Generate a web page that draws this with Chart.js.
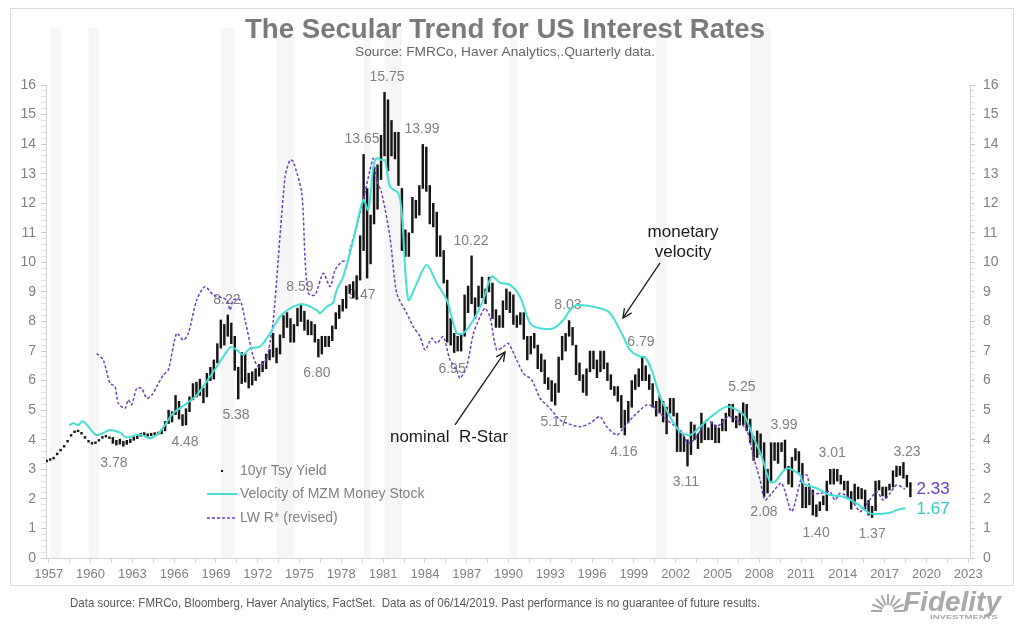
<!DOCTYPE html>
<html><head><meta charset="utf-8">
<script src="https://cdn.jsdelivr.net/npm/chart.js@4.4.1/dist/chart.umd.min.js"></script>
<style>html,body{margin:0;padding:0;background:#fff;}#wrap{width:1024px;height:625px;}</style>
</head><body><div id="wrap"><canvas id="c" width="1024" height="625"></canvas></div>
<script>
// ---------- DATA ----------
// 10yr Treasury yield, quarterly low / high, starting 1957Q1
const firstYear = 1957;
const yieldLow = [
3.22,3.25,3.30,3.35,3.49,3.62,3.75,3.92,4.12,4.24,4.27,4.19,4.05,3.92,3.85,3.87,3.95,4.05,4.09,4.04,
3.88,3.82,3.85,3.78,3.84,3.90,3.98,4.04,4.12,4.14,
4.12,4.14,4.16,4.18,4.20,4.30,4.55,4.60,4.85,4.70,
4.48,4.50,4.95,5.35,5.45,5.50,5.25,5.45,6.00,6.05,
6.60,7.10,7.20,7.50,7.25,6.35,5.38,5.90,5.95,5.75,
5.85,6.00,6.15,6.30,6.40,6.70,6.80,6.60,6.90,7.45,
7.80,7.30,7.30,7.85,8.00,7.70,7.55,7.55,7.30,6.80,
6.90,7.15,7.15,7.35,7.75,8.10,8.35,8.45,8.95,8.80,
8.75,9.40,10.40,9.47,9.95,11.30,11.80,12.80,13.60,13.10,
13.60,13.50,12.60,10.40,10.20,10.20,11.00,11.50,11.60,12.50,
12.40,11.30,11.20,10.20,10.20,9.30,7.30,7.20,6.95,7.00,
7.00,7.50,8.30,8.60,8.10,8.50,8.80,8.60,9.00,8.10,
7.80,7.80,7.80,8.40,8.30,7.90,7.80,7.90,7.40,6.70,
6.90,7.10,6.40,6.30,5.90,5.70,5.30,5.17,5.60,6.70,
7.00,7.50,7.20,6.20,6.00,5.60,5.50,6.30,6.40,6.10,
6.30,6.40,6.00,5.70,5.50,5.30,4.40,4.16,4.60,5.10,
5.70,5.80,6.00,6.00,5.70,5.10,4.80,4.90,4.60,4.20,
4.90,4.80,3.60,3.60,3.60,3.11,3.50,4.00,3.70,3.90,
4.00,4.00,4.00,3.90,3.90,4.30,4.30,4.80,4.60,4.40,
4.50,4.50,4.30,3.90,3.30,3.40,3.50,2.08,2.20,2.60,
3.30,3.20,3.60,3.00,2.50,2.40,3.30,2.90,1.70,1.70,
1.80,1.45,1.40,1.60,1.80,1.60,2.50,2.50,2.60,2.50,
2.30,2.00,1.65,1.85,2.00,2.00,1.65,1.45,1.37,1.60,
2.30,2.10,2.03,2.30,2.40,2.75,2.80,2.70,2.40,2.07];
const yieldHigh = [
3.28,3.31,3.36,3.41,3.55,3.68,3.81,3.98,4.18,4.30,4.33,4.25,4.11,3.98,3.91,3.93,4.01,4.11,4.15,4.10,
4.08,3.98,4.02,3.95,3.98,4.02,4.10,4.16,4.22,4.24,
4.20,4.22,4.24,4.26,4.34,4.62,5.00,4.95,5.50,5.30,
4.85,5.05,5.45,5.90,5.95,6.05,5.75,6.25,6.45,6.70,
7.25,8.05,7.90,8.22,7.95,7.50,6.45,6.95,6.90,6.25,
6.30,6.40,6.55,6.65,6.90,7.05,7.60,7.10,7.55,8.20,
8.30,8.10,7.90,8.45,8.59,8.35,8.05,8.00,7.90,7.40,
7.50,7.50,7.50,7.85,8.30,8.55,8.75,9.20,9.25,9.35,
9.55,10.90,13.65,12.50,11.60,13.20,13.30,14.30,15.75,15.50,
14.80,14.40,14.40,12.50,11.10,11.00,12.20,12.10,12.60,13.99,
13.90,12.60,12.00,11.70,10.90,10.40,9.40,8.10,7.60,7.50,
7.60,8.90,9.20,10.22,8.80,9.20,9.50,9.10,9.50,9.30,
8.40,8.20,8.70,9.10,9.00,8.90,8.20,8.30,8.30,7.50,
7.50,7.60,7.20,6.90,6.70,6.10,6.00,5.90,6.80,7.50,
7.60,8.03,7.80,7.20,6.60,6.20,6.40,7.00,7.00,6.70,
7.00,7.00,6.60,6.20,5.80,5.80,5.50,5.00,5.30,6.00,
6.20,6.40,6.79,6.50,6.20,5.90,5.30,5.50,5.30,5.10,
5.40,5.40,4.90,4.30,4.10,4.00,4.60,4.50,4.20,4.90,
4.60,4.40,4.60,4.50,4.40,4.70,4.90,5.20,5.20,4.80,
4.90,5.25,5.20,4.70,4.10,4.30,4.20,3.90,3.00,3.90,
3.90,3.90,3.90,3.99,3.10,3.40,3.70,3.60,3.20,2.40,
2.40,2.30,1.80,1.90,2.10,2.60,3.00,3.01,3.00,2.80,
2.60,2.60,2.25,2.50,2.40,2.35,2.30,1.95,1.75,2.60,
2.62,2.40,2.40,2.50,2.95,3.11,3.10,3.23,2.80,2.55];

// Velocity of MZM money stock
const velYears = [1958.87,1959.16,1959.52,1959.83,1960.24,1960.84,1961.79,1962.51,1962.99,1963.95,1964.67,1965.38,1966.34,1967.3,1968.02,1968.97,1969.93,1970.46,1970.89,1971.36,1971.84,1972.56,1973.28,1974.0,1974.95,1975.67,1976.63,1976.87,1977.35,1977.8,1978.07,1978.54,1979.26,1979.98,1980.34,1980.7,1980.94,1981.3,1981.54,1981.9,1982.49,1982.74,1983.21,1983.81,1984.53,1985.25,1985.97,1986.68,1987.16,1987.88,1988.59,1989.2,1989.79,1990.51,1991.23,1991.95,1992.66,1993.62,1994.34,1994.82,1995.3,1996.97,1997.69,1998.64,1999.12,1999.84,2000.2,2000.68,2001.28,2002.0,2002.71,2003.43,2004.15,2005.1,2006.06,2006.78,2007.37,2007.97,2008.58,2009.17,2009.53,2010.37,2011.33,2011.56,2012.52,2013.48,2014.43,2015.39,2016.34,2017.06,2017.78,2018.26,2018.86];
const velValues = [4.50,4.56,4.50,4.63,4.44,4.16,4.33,4.24,4.08,4.18,4.05,4.27,4.90,5.23,5.51,6.13,6.81,7.13,7.04,6.87,7.09,7.15,7.60,8.16,8.50,8.58,8.39,8.28,8.50,8.63,9.07,9.52,10.76,12.11,11.77,13.24,13.52,13.46,13.46,12.56,12.34,11.66,8.73,9.29,9.91,9.29,8.73,7.60,7.60,8.05,8.73,9.52,9.31,9.24,8.84,7.94,7.77,7.77,8.05,8.39,8.56,8.45,8.28,7.49,7.04,6.81,6.79,6.36,5.46,4.78,4.27,4.16,4.44,4.84,5.12,5.01,4.78,4.10,3.43,2.58,2.58,3.03,2.81,2.53,2.36,2.13,2.07,1.85,1.51,1.49,1.53,1.62,1.68];

// Laubach-Williams R* (revised), nominal
const rYears = [1960.84,1961.31,1961.79,1962.15,1962.39,1962.87,1963.11,1963.35,1963.71,1964.07,1964.43,1964.79,1965.15,1965.62,1965.98,1966.58,1967.06,1967.42,1968.02,1968.61,1969.21,1970.17,1970.41,1970.65,1971.13,1971.49,1972.08,1972.44,1972.92,1973.16,1973.52,1974.36,1974.72,1974.95,1975.56,1975.79,1976.03,1976.51,1977.11,1977.59,1977.95,1978.43,1978.9,1979.02,1979.5,1979.98,1980.46,1980.7,1980.94,1981.3,1981.89,1982.38,1983.09,1983.57,1984.05,1984.41,1984.89,1985.25,1985.72,1986.2,1986.68,1986.92,1987.4,1987.88,1988.36,1988.71,1989.07,1989.55,1990.03,1990.39,1990.99,1991.46,1992.07,1992.66,1993.38,1994.1,1994.58,1995.53,1996.25,1996.97,1997.45,1998.17,1998.64,1999.36,2000.32,2000.8,2001.76,2002.71,2003.31,2003.91,2004.63,2005.35,2006.18,2006.78,2007.5,2007.98,2008.46,2008.82,2009.3,2010.01,2010.73,2011.45,2011.81,2012.17,2012.77,2013.48,2013.84,2014.2,2014.92,2015.64,2016.0,2016.83,2017.31,2017.79,2018.27,2018.86];
const rValues = [6.92,6.70,5.91,5.80,5.23,5.06,5.35,5.18,5.74,5.74,5.40,5.51,5.80,6.19,6.36,7.60,7.37,7.60,8.73,9.18,8.90,8.73,8.39,8.73,8.73,8.05,6.81,6.47,6.64,6.98,8.05,12.90,13.46,13.41,12.34,10.19,8.95,8.90,9.63,9.18,9.74,10.02,10.08,10.42,11.21,12.11,13.13,13.52,12.79,12.34,10.87,8.95,8.28,7.82,7.49,7.04,7.43,7.26,7.49,6.70,6.36,6.08,6.47,7.60,8.16,8.45,8.16,7.04,7.15,7.26,6.70,6.25,6.02,5.41,5.06,4.67,4.56,4.44,4.56,4.78,4.44,4.16,4.39,4.78,5.18,5.12,4.67,4.33,3.88,4.10,4.67,4.44,4.78,4.67,4.33,3.43,2.64,1.96,2.19,2.53,1.57,2.75,2.81,2.19,2.19,2.24,1.96,2.19,2.02,1.57,1.74,2.24,1.96,2.19,2.47,2.33];

// Recessions (quarter starts)
const recStart = [1957.5,1960.25,1969.75,1973.75,1980.0,1981.5,1990.5,2001.0,2007.75];
const recEnd   = [1958.25,1961.0,1970.75,1975.0,1980.5,1982.75,1991.0,2001.75,2009.25];

// Axis labels
const xTickYears = [1957,1960,1963,1966,1969,1972,1975,1978,1981,1984,1987,1990,1993,1996,1999,2002,2005,2008,2011,2014,2017,2020,2023];
const xLabelAnchor = 0.4;   // year labels sit ~mid-May of the year
const yTickLabels = [0,1,2,3,4,5,6,7,8,9,10,11,12,13,14,15,16];

// Value annotations
const annText = ['15.75','13.65','13.99','10.22','8.03','6.79','5.25','3.99','3.01','3.23','2.08','1.40','1.37','3.11','4.16','5.17','6.95','6.80','9.47','8.59','8.22','5.38','4.48','3.78'];
const annX = [1981.68,1979.88,1984.19,1987.71,1994.67,1999.91,2007.16,2010.18,2013.63,2019.01,2008.74,2012.48,2016.50,2003.14,1998.69,1993.67,1986.35,1976.65,1979.88,1975.43,1970.19,1970.84,1967.18,1962.08];
const annY = [16.27,14.17,14.51,10.72,8.56,7.31,5.78,4.50,3.55,3.59,1.56,0.85,0.81,2.57,3.59,4.60,6.39,6.26,8.90,9.17,8.73,4.84,3.92,3.21];

// ---------- BUILD ----------
const VEL = '#45e0d3', RSTAR = '#6c40c6';
const FONT = '"Liberation Sans", Arial, sans-serif';
const NARROW = '"Liberation Sans Narrow", "Liberation Sans", Arial, sans-serif';

const yieldData = yieldLow.map((lo, i) => ({x: firstYear + i * 0.25, y: [lo, yieldHigh[i]]}));
const velData = velYears.map((x, i) => ({x, y: velValues[i]}));
const rData = rYears.map((x, i) => ({x, y: rValues[i]}));

function fitText(ctx, text, font, color, x0, x1, base) {
  ctx.save(); ctx.font = font;
  const w = ctx.measureText(text).width;
  ctx.translate(x0, base); ctx.scale((x1 - x0) / w, 1);
  ctx.fillStyle = color; ctx.textAlign = 'left'; ctx.textBaseline = 'alphabetic';
  ctx.fillText(text, 0, 0); ctx.restore();
}
function arrow(ctx, x0, y0, x1, y1) {
  ctx.save(); ctx.strokeStyle = '#1a1a1a'; ctx.lineWidth = 1.3;
  ctx.beginPath(); ctx.moveTo(x0, y0); ctx.lineTo(x1, y1); ctx.stroke();
  const a = Math.atan2(y1 - y0, x1 - x0), L = 10, s = 0.45;
  ctx.beginPath();
  ctx.moveTo(x1 - L * Math.cos(a - s), y1 - L * Math.sin(a - s));
  ctx.lineTo(x1, y1);
  ctx.lineTo(x1 - L * Math.cos(a + s), y1 - L * Math.sin(a + s));
  ctx.stroke(); ctx.restore();
}

const decor = {
  id: 'decor',
  beforeDraw(chart) {
    const {ctx, chartArea: a} = chart, x = chart.scales.x;
    ctx.save();
    ctx.fillStyle = '#fff'; ctx.fillRect(0, 0, chart.width, chart.height);
    ctx.fillStyle = '#f6f6f6';
    recStart.forEach((s, k) => {
      const p0 = x.getPixelForValue(s), p1 = x.getPixelForValue(recEnd[k]);
      ctx.fillRect(p0, 28, p1 - p0, a.bottom - 28);
    });
    ctx.restore();
  },
  beforeDatasetsDraw(chart) {
    const {ctx} = chart, x = chart.scales.x, y = chart.scales.y;
    ctx.save();
    ctx.font = '14px ' + FONT; ctx.fillStyle = '#808080';
    ctx.textAlign = 'center'; ctx.textBaseline = 'middle';
    annText.forEach((t, i) => ctx.fillText(t, x.getPixelForValue(annX[i]), y.getPixelForValue(annY[i])));
    ctx.restore();
  },
  afterDraw(chart) {
    const {ctx} = chart, x = chart.scales.x, y = chart.scales.y;
    const px = v => x.getPixelForValue(v), py = v => y.getPixelForValue(v);
    ctx.save();
    // frame
    ctx.strokeStyle = '#dcdcdc'; ctx.lineWidth = 1;
    ctx.strokeRect(10.5, 8.5, 1003, 577);
    // titles
    fitText(ctx, 'The Secular Trend for US Interest Rates', 'bold 28px ' + NARROW, '#7a7a7a', 245, 765, 38);
    fitText(ctx, 'Source: FMRCo, Haver Analytics,.Quarterly data.', '13px ' + NARROW, '#666', 355, 655, 56);
    fitText(ctx, 'Data source: FMRCo, Bloomberg, Haver Analytics, FactSet.  Data as of 06/14/2019. Past performance is no guarantee of future results.', '12px ' + NARROW, '#595959', 70, 760, 607);
    // end labels
    ctx.textAlign = 'center'; ctx.textBaseline = 'middle';
    ctx.font = '17px ' + FONT;
    ctx.fillStyle = '#6a3cc8'; ctx.fillText('2.33', px(2020.88), py(2.33));
    ctx.fillStyle = '#33c8c8'; ctx.fillText('1.67', px(2020.88), py(1.66));
    // notes
    ctx.fillStyle = '#1a1a1a'; ctx.font = '17px ' + FONT;
    ctx.fillText('monetary', px(2002.93), py(11.03));
    ctx.fillText('velocity', px(2002.93), py(10.35));
    ctx.fillText('nominal  R-Star', px(1986.13), py(4.09));
    arrow(ctx, px(2001.28), py(9.98), px(1998.62), py(8.12));
    arrow(ctx, px(1986.56), py(4.50), px(1990.15), py(6.97));
    // legend
    ctx.textAlign = 'left'; ctx.font = '14px ' + FONT; ctx.fillStyle = '#808080';
    ctx.fillText('10yr Tsy Yield', 240, 471);
    ctx.fillText('Velocity of MZM Money Stock', 240, 494);
    ctx.fillText('LW R* (revised)', 240, 518);
    ctx.fillStyle = '#111'; ctx.fillRect(221, 470, 2, 2);
    ctx.strokeStyle = VEL; ctx.lineWidth = 2;
    ctx.beginPath(); ctx.moveTo(207, 494); ctx.lineTo(237, 494); ctx.stroke();
    ctx.strokeStyle = RSTAR; ctx.lineWidth = 1.5; ctx.setLineDash([3, 2]);
    ctx.beginPath(); ctx.moveTo(207, 518); ctx.lineTo(237, 518); ctx.stroke();
    ctx.setLineDash([]);
    // Fidelity logo
    ctx.fillStyle = '#a8a8a8'; ctx.strokeStyle = '#a8a8a8'; ctx.lineWidth = 2;
    for (let k = 0; k < 9; k++) {
      const ang = Math.PI + k * Math.PI / 8;
      ctx.beginPath();
      ctx.moveTo(888 + 6 * Math.cos(ang), 611 + 6 * Math.sin(ang));
      ctx.lineTo(888 + 17 * Math.cos(ang), 611 + 17 * Math.sin(ang));
      ctx.stroke();
    }
    fitText(ctx, 'Fidelity', 'italic bold 27px ' + FONT, '#a8a8a8', 903, 1001, 611);
    fitText(ctx, 'INVESTMENTS', 'bold 6px ' + FONT, '#a8a8a8', 930, 998, 619);
    ctx.restore();
  }
};

const tickFont = {family: FONT, size: 14};
function yTicks(scale) {
  const t = [];
  for (let k = 0; k <= 80; k++) t.push({value: k / 5});
  scale.ticks = t;
}
function yLabel(v) {
  const r = Math.round(v);
  return Math.abs(v - r) < 1e-6 && yTickLabels.includes(r) ? String(r) : '';
}

new Chart(document.getElementById('c'), {
  type: 'bar',
  data: {
    datasets: [
      {type: 'line', label: 'Velocity of MZM Money Stock', data: velData, borderColor: VEL, borderWidth: 2,
       pointRadius: 0, tension: 0.3, order: 1, yAxisID: 'y'},
      {type: 'line', label: 'LW R* (revised)', data: rData, borderColor: RSTAR, borderWidth: 1.5,
       borderDash: [3, 2], pointRadius: 0, tension: 0.25, order: 2, yAxisID: 'y'},
      {type: 'bar', label: '10yr Tsy Yield', data: yieldData, backgroundColor: '#151515',
       barThickness: 1.8, order: 3, yAxisID: 'y'}
    ]
  },
  options: {
    responsive: false, animation: false, devicePixelRatio: 1,
    layout: {padding: {top: 85, left: 0, right: 0, bottom: 0}},
    plugins: {legend: {display: false}, tooltip: {enabled: false}, title: {display: false}},
    scales: {
      x: {
        type: 'linear', min: 1957.2, max: 2023.53, offset: false,
        afterBuildTicks: s => {
          const t = [];
          xTickYears.forEach((yr, k) => {
            t.push({value: yr + xLabelAnchor});
            if (k < xTickYears.length - 1) t.push({value: yr + xLabelAnchor + 1.5});
          });
          s.ticks = t;
        },
        afterFit: s => { s.height = 67; },
        ticks: {
          autoSkip: false, maxRotation: 0, minRotation: 0, padding: 4, color: '#808080',
          font: {family: FONT, size: 13},
          callback: (v) => {
            const yr = Math.round((v - xLabelAnchor) * 100) / 100;
            return xTickYears.includes(yr) ? String(yr) : '';
          }
        },
        grid: {display: true, drawOnChartArea: false, drawTicks: true, tickLength: 5, offset: false,
               color: '#d4d4d4', tickColor: '#d4d4d4'},
        border: {display: true, color: '#d4d4d4'}
      },
      y: {
        type: 'linear', position: 'left', min: 0, max: 16,
        afterBuildTicks: yTicks,
        afterFit: s => { s.width = 46; },
        ticks: {autoSkip: false, padding: 5, color: '#808080', font: tickFont, callback: yLabel},
        grid: {display: true, drawOnChartArea: false, drawTicks: true, tickLength: 5,
               tickColor: c => (Math.abs(c.tick.value - Math.round(c.tick.value)) < 1e-6 ? '#c8c8c8' : '#e2e2e2')},
        border: {display: true, color: '#d4d4d4'}
      },
      y2: {
        type: 'linear', position: 'right', min: 0, max: 16,
        afterBuildTicks: yTicks,
        afterFit: s => { s.width = 54; },
        ticks: {autoSkip: false, padding: 8, color: '#808080', font: tickFont, callback: yLabel},
        grid: {display: true, drawOnChartArea: false, drawTicks: true, tickLength: 5,
               tickColor: c => (Math.abs(c.tick.value - Math.round(c.tick.value)) < 1e-6 ? '#c8c8c8' : '#e2e2e2')},
        border: {display: true, color: '#d4d4d4'}
      }
    }
  },
  plugins: [decor]
});
</script></body></html>
